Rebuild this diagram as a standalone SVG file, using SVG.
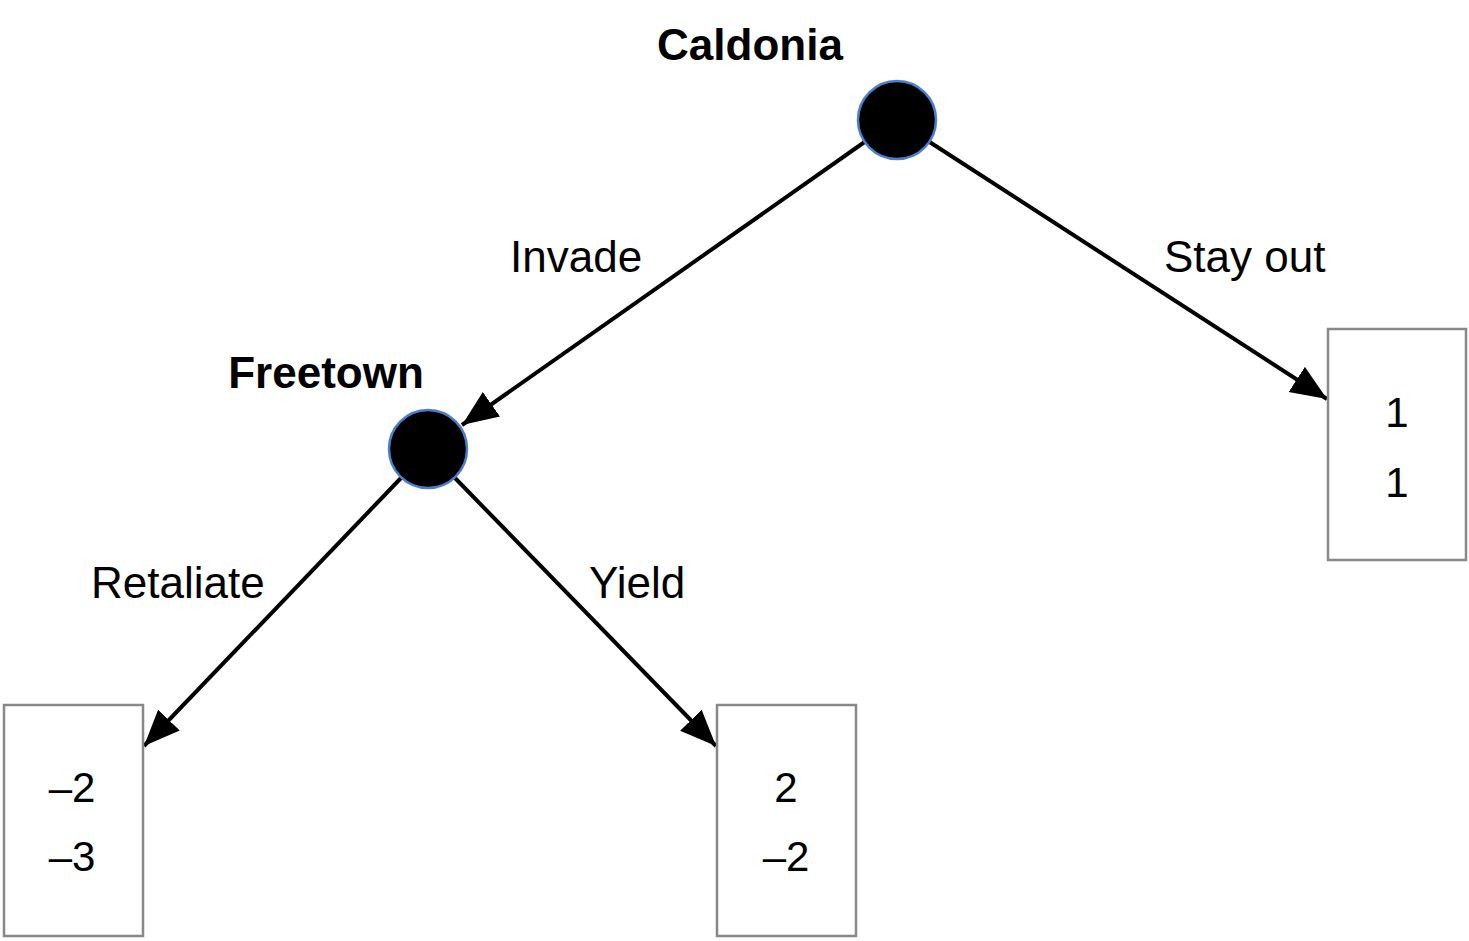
<svg xmlns="http://www.w3.org/2000/svg" width="1469" height="941" viewBox="0 0 1469 941">
<style>
  text { font-family: "Liberation Sans", Arial, Helvetica, sans-serif; font-size: 42px; fill: #000; }
  .lbl { font-size: 44px; }
  .bold { font-weight: bold; font-size: 44px; }
  .num { text-anchor: middle; }
  .dec { fill: #000; stroke: #4a7fd0; stroke-width: 2.5; }
  .leaf { fill: #fff; stroke: #888; stroke-width: 2.5; }
  .edge { stroke: #000; stroke-width: 4; fill: none; }
</style>
<defs>
  <marker id="arr" markerUnits="userSpaceOnUse" markerWidth="40" markerHeight="34" refX="36" refY="15" orient="auto">
    <path d="M0,0 L36,15 L0,30 Z" fill="#000"/>
  </marker>
</defs>
<rect width="1469" height="941" fill="#fff"/>
<g id="connectors">
  <line class="edge" x1="866" y1="141" x2="462" y2="425" marker-end="url(#arr)"/>
  <line class="edge" x1="928" y1="141" x2="1327" y2="399" marker-end="url(#arr)"/>
  <line class="edge" x1="401" y1="478" x2="144" y2="746" marker-end="url(#arr)"/>
  <line class="edge" x1="455" y1="478" x2="716" y2="746" marker-end="url(#arr)"/>
  <text class="lbl" x="510" y="272">Invade</text>
  <text class="lbl" x="1164" y="272">Stay out</text>
  <text class="lbl" x="91" y="598">Retaliate</text>
  <text class="lbl" x="589" y="598">Yield</text>
</g>
<g id="caldonia">
  <circle class="dec" cx="897" cy="120" r="39"/>
  <text class="bold" x="750" y="60" text-anchor="middle">Caldonia</text>
</g>
<g id="freetown">
  <circle class="dec" cx="428" cy="449" r="39"/>
  <text class="bold" x="326" y="388" text-anchor="middle">Freetown</text>
</g>
<g id="leaf-stayout">
  <rect class="leaf" x="1328" y="329" width="138" height="231"/>
  <text class="num" x="1397" y="427">1</text>
  <text class="num" x="1397" y="497">1</text>
</g>
<g id="leaf-retaliate">
  <rect class="leaf" x="4" y="705" width="139" height="231"/>
  <text class="num" x="72" y="802">–2</text>
  <text class="num" x="72" y="871">–3</text>
</g>
<g id="leaf-yield">
  <rect class="leaf" x="717" y="705" width="139" height="231"/>
  <text class="num" x="786" y="802">2</text>
  <text class="num" x="786" y="871">–2</text>
</g>
</svg>
